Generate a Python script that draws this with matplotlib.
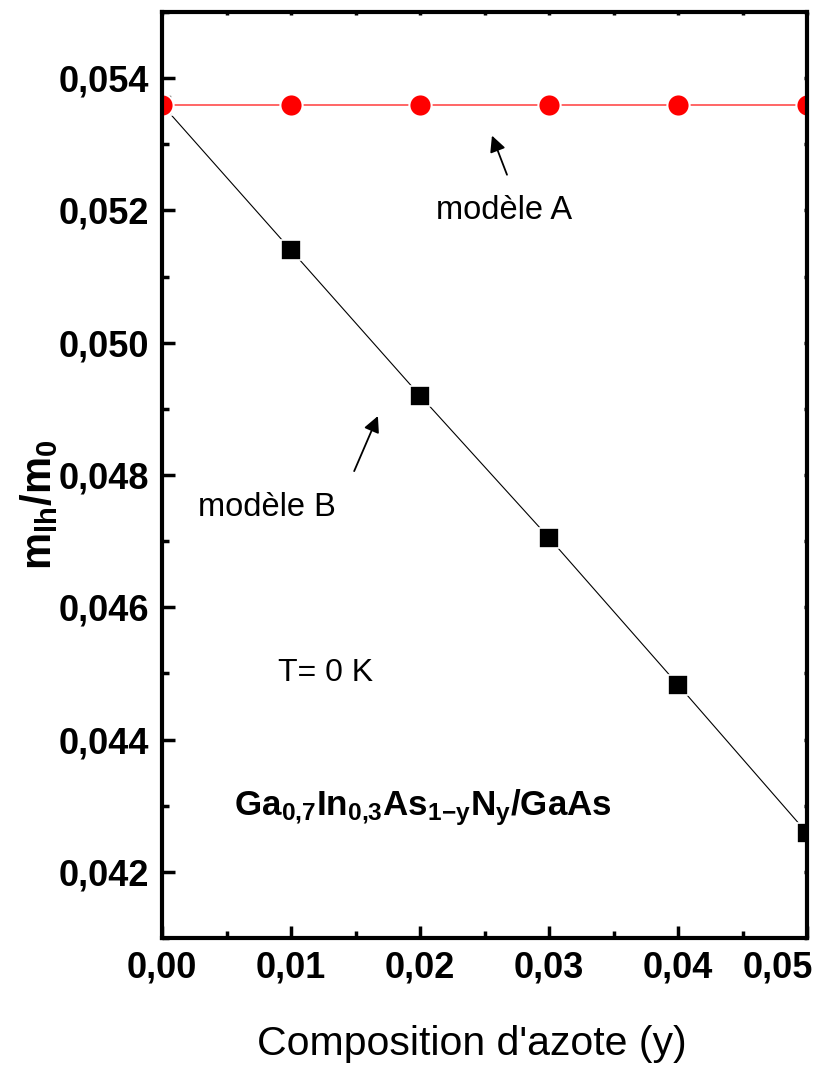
import matplotlib
matplotlib.use("Agg")
import matplotlib.pyplot as plt
from matplotlib.ticker import MultipleLocator, FuncFormatter

# data
y_comp = [0.00, 0.01, 0.02, 0.03, 0.04, 0.05]
mass_A = [0.0536, 0.0536, 0.0536, 0.0536, 0.0536, 0.0536]
mass_B = [0.0536, 0.0514, 0.0492, 0.04705, 0.04483, 0.04259]

plt.rcParams['font.family'] = ['Liberation Sans', 'DejaVu Sans']
plt.rcParams['mathtext.fontset'] = 'custom'
plt.rcParams['mathtext.rm'] = 'Liberation Sans'
plt.rcParams['mathtext.bf'] = 'Liberation Sans:bold'
plt.rcParams['mathtext.it'] = 'Liberation Sans:italic'

fig = plt.figure(figsize=(8.15, 10.68), dpi=100)
ax = fig.add_axes([0.1988, 0.1217, 0.7914, 0.8671])

ax.plot(y_comp, mass_B, color='black', lw=0.8, marker='s', ms=14.5,
        mfc='black', mec='white', mew=1.2)
ax.plot(y_comp, mass_A, color='#ff4c4c', lw=1.2, marker='o', ms=16,
        mfc='red', mec='white', mew=1.5)

ax.set_xlim(0, 0.05)
ax.set_ylim(0.041, 0.055)

def xfmt(v, p):
    # the last label is drawn separately, pulled inside the figure
    if v > 0.0495:
        return ''
    return f"{v:.2f}".replace('.', ',')

ax.xaxis.set_major_locator(MultipleLocator(0.01))
ax.xaxis.set_minor_locator(MultipleLocator(0.005))
ax.yaxis.set_major_locator(MultipleLocator(0.002))
ax.yaxis.set_minor_locator(MultipleLocator(0.001))
ax.xaxis.set_major_formatter(FuncFormatter(xfmt))
ax.yaxis.set_major_formatter(FuncFormatter(lambda v, p: f"{v:.3f}".replace('.', ',')))

for s in ax.spines.values():
    s.set_linewidth(3)

ax.tick_params(which='major', direction='in', length=9, width=2.5, pad=9)
ax.tick_params(which='minor', direction='in', length=5, width=2.5)
ax.tick_params(which='both', top=True, right=True)
for t in ax.xaxis.get_major_ticks() + ax.xaxis.get_minor_ticks():
    t.tick2line.set_markersize(2)
for t in ax.yaxis.get_major_ticks() + ax.yaxis.get_minor_ticks():
    t.tick2line.set_markersize(2)

for lab in ax.get_yticklabels() + ax.get_xticklabels():
    lab.set_fontsize(26)
    lab.set_fontweight('bold')

ax.annotate(f"{y_comp[-1]:.2f}".replace('.', ','), xy=(1, 0), xycoords='axes fraction',
            xytext=(4.5, -9), textcoords='offset points', ha='right', va='top',
            fontsize=26, fontweight='bold')

ax.set_ylabel(r'$\mathbf{m_{lh}/m_0}$', fontsize=30)
ax.yaxis.set_label_coords(-0.158, 0.468)
ax.set_xlabel("Composition d'azote (y)", fontsize=29.5)
ax.xaxis.set_label_coords(0.48, -0.094)

ax.annotate('', xy=(0.0255, 0.05317), xytext=(0.02682, 0.0525),
            arrowprops=dict(arrowstyle='-|>', color='black', lw=1.3, mutation_scale=24))
ax.annotate('', xy=(0.01682, 0.04893), xytext=(0.01481, 0.04802),
            arrowprops=dict(arrowstyle='-|>', color='black', lw=1.3, mutation_scale=24))

ax.text(0.02124, 0.052, 'modèle A', fontsize=23.5, va='center', ha='left')
ax.text(0.00279, 0.04751, 'modèle B', fontsize=23.5, va='center', ha='left')
ax.text(0.00899, 0.04501, 'T= 0 K', fontsize=23, va='center', ha='left')
ax.text(0.0056, 0.04285,
        r'$\mathbf{Ga_{0{,}7}In_{0{,}3}As_{1{-}y}N_y/GaAs}$',
        fontsize=25.2, va='baseline', ha='left')

fig.savefig('out.png', dpi=100)
